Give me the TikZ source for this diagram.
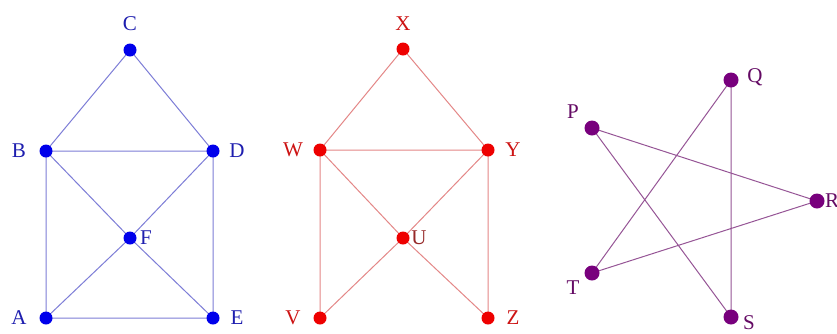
\documentclass[tikz,border=0pt]{standalone}
\usepackage{fontspec}
\setmainfont{Liberation Serif}
\definecolor{bdotc}{RGB}{0,0,235}
\definecolor{btxt}{RGB}{30,30,175}
\definecolor{bline}{RGB}{125,125,215}
\definecolor{rdotc}{RGB}{238,0,0}
\definecolor{rtxt}{RGB}{205,20,20}
\definecolor{utxt}{RGB}{150,40,40}
\definecolor{rline}{RGB}{228,135,135}
\definecolor{pdotc}{RGB}{120,0,125}
\definecolor{ptxt}{RGB}{100,10,100}
\definecolor{pline}{RGB}{150,85,150}
\begin{document}
\begin{tikzpicture}[x=1pt,y=-1pt,
  bdot/.style={circle,fill=bdotc,inner sep=0pt,minimum size=13pt},
  rdot/.style={circle,fill=rdotc,inner sep=0pt,minimum size=13pt},
  pdot/.style={circle,fill=pdotc,inner sep=0pt,minimum size=15pt},
  bedge/.style={draw=bline,line width=1pt},
  redge/.style={draw=rline,line width=1pt},
  pedge/.style={draw=pline,line width=1pt},
  blab/.style={text=btxt,font=\fontsize{21}{23}\selectfont,inner sep=0pt},
  rlab/.style={text=rtxt,font=\fontsize{21}{23}\selectfont,inner sep=0pt},
  plab/.style={text=ptxt,font=\fontsize{21}{23}\selectfont,inner sep=0pt}]
\useasboundingbox (0,0) rectangle (837,333);
\fill[white] (0,0) rectangle (837,333);
% blue
\coordinate (C) at (130,50);
\coordinate (B) at (46,151);
\coordinate (D) at (213,151);
\coordinate (F) at (130,238);
\coordinate (A) at (46,318);
\coordinate (E) at (213,318);
\draw[bedge] (C)--(B) (C)--(D) (B)--(D) (B)--(A) (D)--(E) (A)--(E) (B)--(F) (F)--(E) (D)--(F) (F)--(A);
\foreach \n in {A,B,C,D,E,F} \node[bdot] (d\n) at (\n) {};
\node[blab] (lC) at (130,24) {C};
\node[blab] (lB) at (19,151) {B};
\node[blab] (lD) at (237,151) {D};
\node[blab] (lF) at (146,238) {F};
\node[blab] (lA) at (19,318) {A};
\node[blab] (lE) at (237,318) {E};
% red
\coordinate (X) at (403,49);
\coordinate (W) at (320,150);
\coordinate (Y) at (488,150);
\coordinate (U) at (403,238);
\coordinate (V) at (320,318);
\coordinate (Z) at (488,318);
\draw[redge] (X)--(W) (X)--(Y) (W)--(Y) (W)--(V) (Y)--(Z) (W)--(U) (U)--(Z) (Y)--(U) (U)--(V);
\foreach \n in {X,W,Y,U,V,Z} \node[rdot] (d\n) at (\n) {};
\node[rlab] (lX) at (403,24) {X};
\node[rlab] (lW) at (293,150) {W};
\node[rlab] (lY) at (513,150) {Y};
\node[rlab,text=utxt] (lU) at (419,238) {U};
\node[rlab] (lV) at (293,318) {V};
\node[rlab] (lZ) at (513,318) {Z};
% purple
\coordinate (P) at (592,128);
\coordinate (Q) at (731,80);
\coordinate (R) at (817,201);
\coordinate (T) at (592,273);
\coordinate (S) at (731,317);
\draw[pedge] (P)--(R) (R)--(T) (T)--(Q) (Q)--(S) (S)--(P);
\foreach \n in {P,Q,R,T,S} \node[pdot] (d\n) at (\n) {};
\node[plab] (lP) at (573,112) {P};
\node[plab] (lQ) at (755,77) {Q};
\node[plab] (lR) at (832,201) {R};
\node[plab] (lT) at (573,288) {T};
\node[plab] (lS) at (749,323) {S};
\end{tikzpicture}
\end{document}
